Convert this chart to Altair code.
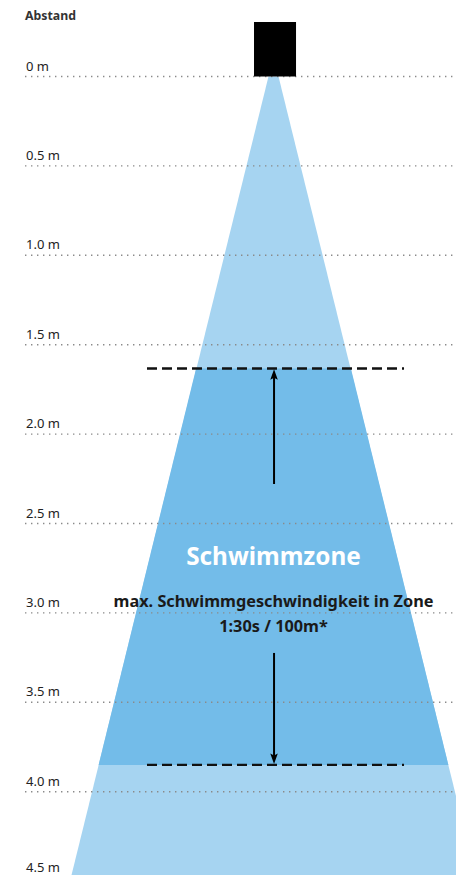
import altair as alt
import pandas as pd

# ---- data (depth in metres, horizontal offset from beam centre in metres) ----
grid_depths = [0.0, 0.5, 1.0, 1.5, 2.0, 2.5, 3.0, 3.5, 4.0]
label_depths = [0.0, 0.5, 1.0, 1.5, 2.0, 2.5, 3.0, 3.5, 4.0]
label_texts = ["0 m", "0.5 m", "1.0 m", "1.5 m", "2.0 m", "2.5 m", "3.0 m", "3.5 m", "4.0 m"]
last_label_depth = [4.5]
last_label_text = ["4.5 m"]

cone_depth = [0.0, 4.52]
cone_half = [0.028, 1.143]

zone_depth = [1.633, 3.85]
zone_half = [0.433, 0.978]

sensor_x = [-0.109, 0.126]
sensor_y = [-0.305, 0.0]

dash_x = [-0.7075, 0.730]
dash_depth = [1.633, 3.85]

arrow_x = 0.003
arrow_up = [2.279, 1.66]     # shaft from, to
arrow_down = [3.224, 3.82]
arrow_tips = [1.638, 3.845]

zone_title = "Schwimmzone"
zone_title_depth = 2.732
zone_lines = ["max. Schwimmgeschwindigkeit in Zone", "1:30s / 100m*"]
zone_lines_depth = [2.967, 3.107]

axis_title = "Abstand"
axis_title_depth = -0.316

# ---- layout helpers ----
W, H = 448, 867
PX = 178.8
CX = 265.5
Y0 = 68.5
xs = alt.Scale(domain=[-CX / PX, (W - CX) / PX], nice=False, zero=False)
ys = alt.Scale(domain=[-Y0 / PX, (H - Y0) / PX], nice=False, zero=False, reverse=True)
X = lambda f: alt.X(f, type="quantitative", scale=xs, axis=None)
Y = lambda f: alt.Y(f, type="quantitative", scale=ys, axis=None)
LEFT = -248.5 / PX
FONT = "Noto Sans"

cone_df = pd.DataFrame({"d": cone_depth, "l": [-h for h in cone_half], "r": cone_half})
zone_df = pd.DataFrame({"d": zone_depth, "l": [-h for h in zone_half], "r": zone_half})

cone = alt.Chart(cone_df).mark_area(orient="horizontal", color="#a6d4f1").encode(
    y=Y("d"), x=X("l"), x2="r")
zone = alt.Chart(zone_df).mark_area(orient="horizontal", color="#73bce9").encode(
    y=Y("d"), x=X("l"), x2="r")

grid_df = pd.DataFrame({"d": grid_depths, "x1": LEFT, "x2": (W - CX) / PX})
grid = alt.Chart(grid_df).mark_rule(color="#8a8a8a", strokeWidth=1.4, strokeDash=[1.4, 4.6]).encode(
    y=Y("d"), x=X("x1"), x2="x2")

lab_df = pd.DataFrame({"d": label_depths, "t": label_texts, "x": LEFT})
labels = alt.Chart(lab_df).mark_text(align="left", baseline="alphabetic", dy=-6, dx=1,
                                      font=FONT, fontSize=13, color="#222222").encode(
    y=Y("d"), x=X("x"), text="t")

last_df = pd.DataFrame({"d": last_label_depth, "t": last_label_text, "x": LEFT})
last_label = alt.Chart(last_df).mark_text(align="left", baseline="alphabetic", dy=-9, dx=1,
                                          font=FONT, fontSize=13, color="#222222").encode(
    y=Y("d"), x=X("x"), text="t")

title_df = pd.DataFrame({"d": [axis_title_depth], "t": [axis_title], "x": [LEFT]})
title = alt.Chart(title_df).mark_text(align="left", baseline="alphabetic", font=FONT, fontSize=12.3,
                                       fontWeight="bold", color="#333333").encode(
    y=Y("d"), x=X("x"), text="t")

dash_df = pd.DataFrame({"d": dash_depth, "x1": dash_x[0], "x2": dash_x[1]})
dashes = alt.Chart(dash_df).mark_rule(color="#111111", strokeWidth=2.3, strokeDash=[10, 5]).encode(
    y=Y("d"), x=X("x1"), x2="x2")

shaft_df = pd.DataFrame({"y1": [arrow_up[0], arrow_down[0]], "y2": [arrow_up[1], arrow_down[1]], "x": arrow_x})
shafts = alt.Chart(shaft_df).mark_rule(color="#000000", strokeWidth=2).encode(
    x=X("x"), y=Y("y1"), y2="y2")

up_df = pd.DataFrame({"d": [arrow_tips[0]], "x": [arrow_x]})
down_df = pd.DataFrame({"d": [arrow_tips[1]], "x": [arrow_x]})
head_up = alt.Chart(up_df).mark_point(shape="M0,0L0.75,2.1L0,1.7L-0.75,2.1Z", filled=True, size=100,
                                       color="#000000", opacity=1).encode(x=X("x"), y=Y("d"))
head_down = alt.Chart(down_df).mark_point(shape="M0,0L0.75,-2.1L0,-1.7L-0.75,-2.1Z", filled=True, size=100,
                                           color="#000000", opacity=1).encode(x=X("x"), y=Y("d"))

sensor_df = pd.DataFrame({"x1": [sensor_x[0]], "x2": [sensor_x[1]], "y1": [sensor_y[0]], "y2": [sensor_y[1]]})
sensor = alt.Chart(sensor_df).mark_rect(color="#000000").encode(
    x=X("x1"), x2="x2", y=Y("y1"), y2="y2")

zt_df = pd.DataFrame({"d": [zone_title_depth], "t": [zone_title], "x": [0.0]})
ztitle = alt.Chart(zt_df).mark_text(align="center", baseline="alphabetic", font=FONT, fontSize=24.3,
                                     fontWeight="bold", color="#ffffff").encode(
    y=Y("d"), x=X("x"), text="t")

zl_df = pd.DataFrame({"d": zone_lines_depth, "t": zone_lines, "x": 0.0})
zlines = alt.Chart(zl_df).mark_text(align="center", baseline="alphabetic", font=FONT, fontSize=16.3,
                                     fontWeight="bold", color="#1a1a1a").encode(
    y=Y("d"), x=X("x"), text="t")

chart = alt.layer(cone, zone, grid, labels, last_label, title, dashes, shafts, head_up, head_down,
                  sensor, ztitle, zlines).properties(
    width=W, height=H, padding=0, autosize=alt.AutoSizeParams(type="none")
).configure_view(stroke=None)

chart.save("out.html", embed_options={"renderer": "svg", "actions": False})
